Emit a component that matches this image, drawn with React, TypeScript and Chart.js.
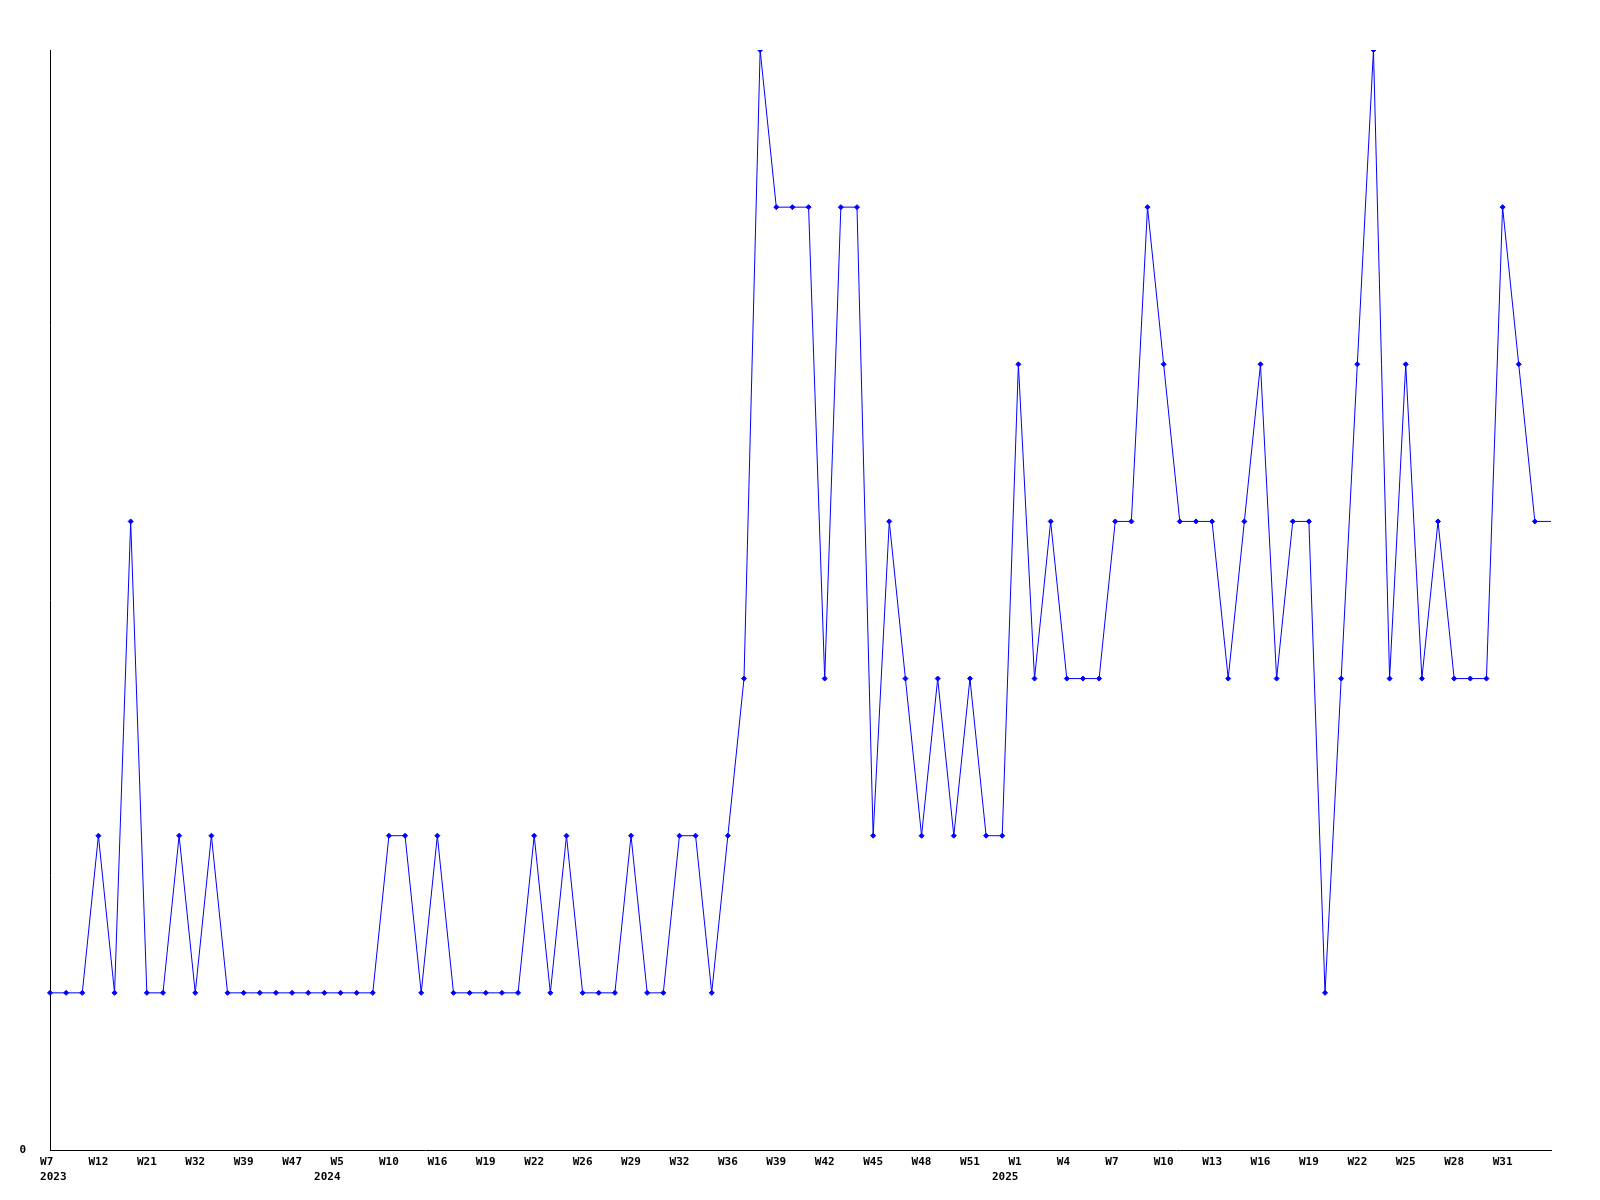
import React, { useEffect, useRef } from "react";
import { Chart, registerables } from "chart.js";

Chart.register(...registerables);

// Week tick labels (every third point carries a label); year shown on a second line
const tickWeeks: string[] = [
  "W7", "W12", "W21", "W32", "W39", "W47", "W5", "W10", "W16", "W19", "W22",
  "W26", "W29", "W32", "W36", "W39", "W42", "W45", "W48", "W51", "W1", "W4",
  "W7", "W10", "W13", "W16", "W19", "W22", "W25", "W28", "W31",
];
const tickYears: Record<number, string> = { 0: "2023", 6: "2024", 20: "2025" };

const values: number[] = [
  1, 1, 1, 2, 1, 4, 1, 1, 2, 1,
  2, 1, 1, 1, 1, 1, 1, 1, 1, 1,
  1, 2, 2, 1, 2, 1, 1, 1, 1, 1,
  2, 1, 2, 1, 1, 1, 2, 1, 1, 2,
  2, 1, 2, 3, 7, 6, 6, 6, 3, 6,
  6, 2, 4, 3, 2, 3, 2, 3, 2, 2,
  5, 3, 4, 3, 3, 3, 4, 4, 6, 5,
  4, 4, 4, 3, 4, 5, 3, 4, 4, 1,
  3, 5, 7, 3, 5, 3, 4, 3, 3, 3,
  6, 5, 4, 4,
];

const yMin = 0;
const yMax = 7;

export default function App() {
  const ref = useRef<HTMLCanvasElement | null>(null);

  useEffect(() => {
    if (!ref.current) return;
    const labels = values.map((_, i) => {
      if (i % 3 !== 0) return "";
      const k = i / 3;
      const w = tickWeeks[k];
      if (w === undefined) return "";
      // monospace padding so labels start just left of their point, as in the source
      const wl = w.length < 3 ? w + " " : w;
      const y = tickYears[k];
      if (!y) return wl;
      const yl = k === 0 ? " " + y : y + "    ";
      return [wl, yl];
    });
    const radii = values.map((_, i) => (i === values.length - 1 ? 0 : 2.5));
    const chart = new Chart(ref.current, {
      type: "line",
      data: {
        labels: labels as any,
        datasets: [
          {
            data: values,
            borderColor: "#0000ff",
            backgroundColor: "#0000ff",
            borderWidth: 1,
            pointStyle: "rectRot",
            pointRadius: radii,
            pointBorderWidth: 1,
            tension: 0,
            fill: false,
          },
        ],
      },
      options: {
        animation: false,
        responsive: false,
        maintainAspectRatio: false,
        layout: { padding: { top: 50, right: 49, left: 0, bottom: 0 } },
        plugins: { legend: { display: false }, tooltip: { enabled: false } },
        scales: {
          x: {
            offset: false,
            grid: { display: false, drawTicks: false },
            border: { display: true, color: "#000", width: 1 },
            ticks: {
              autoSkip: false,
              maxRotation: 0,
              minRotation: 0,
              padding: 5,
              color: "#000",
              font: { family: "'DejaVu Sans Mono'", size: 11, weight: "bold", lineHeight: 15 / 11 },
            },
            afterFit: (s: any) => {
              s.height = 50;
            },
          },
          y: {
            min: yMin,
            max: yMax,
            grid: { display: false, drawTicks: false },
            border: { display: true, color: "#000", width: 1 },
            afterBuildTicks: (s: any) => {
              s.ticks = [{ value: 0 }];
            },
            ticks: {
              padding: 24,
              color: "#000",
              font: { family: "'DejaVu Sans Mono'", size: 11, weight: "bold" },
              callback: (v: any) => String(v),
            },
            afterFit: (s: any) => {
              s.width = 50;
            },
          },
        },
      },
    });
    return () => chart.destroy();
  }, []);

  return (
    <div style={{ position: "fixed", left: 0, top: 0, width: 1600, height: 1200, background: "#fff" }}>
      <canvas ref={ref} width={1600} height={1200} style={{ width: 1600, height: 1200 }} />
    </div>
  );
}
